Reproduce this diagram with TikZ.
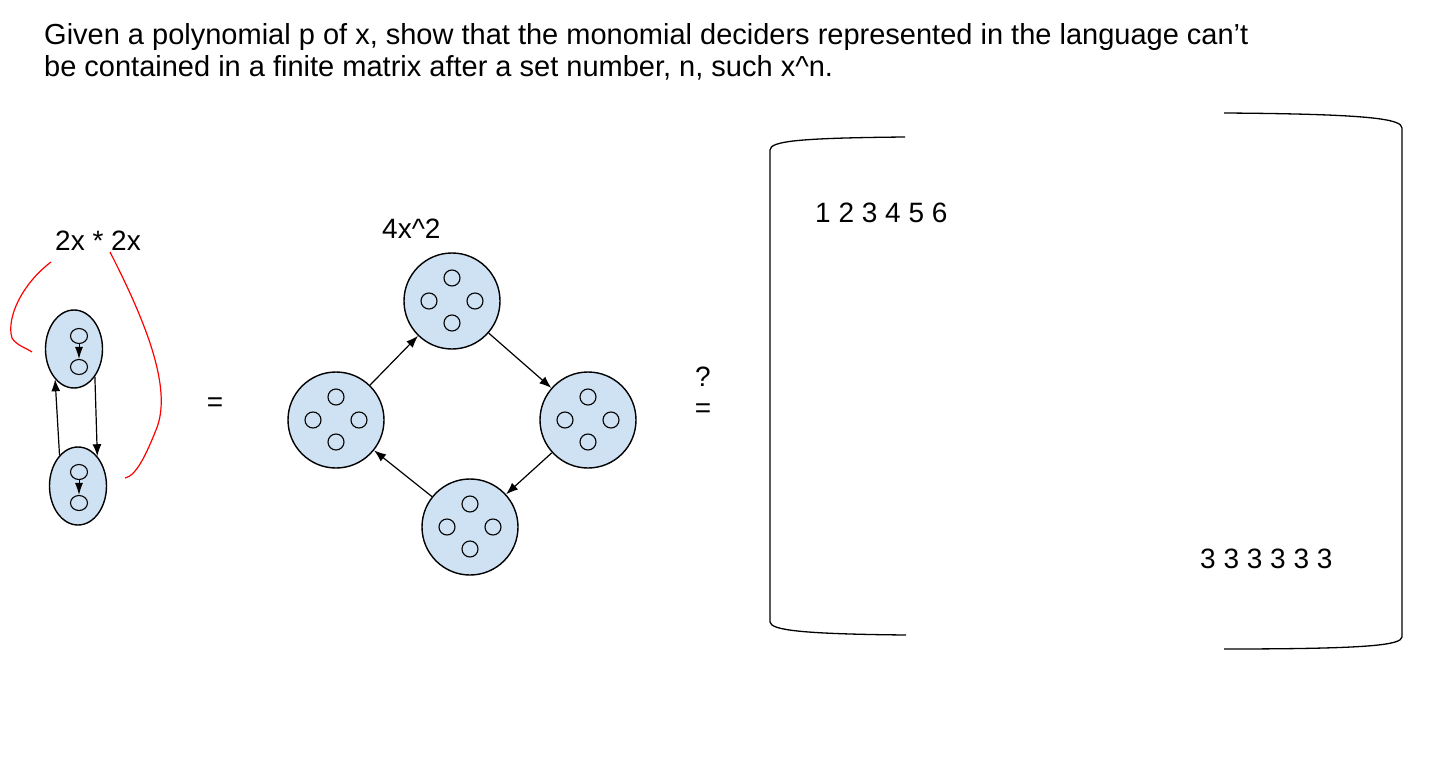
\documentclass[tikz,border=0pt]{standalone}
\usepackage{fontspec}
\setmainfont{Liberation Sans}
\usetikzlibrary{shapes.geometric,arrows.meta}
\definecolor{cellblue}{HTML}{CFE2F3}
\tikzset{
  pairnode/.style = {shape=ellipse, draw, fill=cellblue, line width=1.4pt,
          inner sep=0pt, minimum width=57pt, minimum height=78pt},
  quadnode/.style = {shape=circle, draw, fill=cellblue, line width=1.4pt,
          inner sep=0pt, minimum size=96pt},
  dot/.style      = {shape=ellipse, draw, line width=1.1pt, inner sep=0pt,
          minimum width=17pt, minimum height=15pt},
  label/.style    = {inner sep=0pt, anchor=base west},
  edge/.style     = {draw, line width=1.2pt, -{Latex[length=12pt,width=9pt]}},
  inner/.style    = {draw, line width=1pt, -{Latex[length=12pt,width=8pt]}},
  scribble/.style = {draw=red, line width=1.2pt},
  bracket/.style  = {draw, line width=1.3pt}
}
\begin{document}
\begin{tikzpicture}
  [
    x                 = 1pt,
    y                 = -1pt,
    every node/.style = {font=\fontsize{28}{33}\selectfont}
  ]
  \useasboundingbox [fill=white] (0,0) rectangle (1438,781);
  \node [label, font=\fontsize{29}{33}\selectfont] (title1) at (44,45)
    {Given a polynomial p of x, show that the monomial deciders represented in the language can’t};
  \node [label, font=\fontsize{29}{33}\selectfont] (title2) at (44,77)
    {be contained in a finite matrix after a set number, n, such x\textasciicircum n.};

  \node [label] (lhs) at (55,250) {2x * 2x};
  \node [pairnode] (pa) at (74,349) {};
  \node [pairnode] (pb) at (78,486) {};
  \node [dot] (pa1) at (79,336) {};
  \node [dot] (pa2) at (79,367) {};
  \node [dot] (pb1) at (79,472) {};
  \node [dot] (pb2) at (79,503) {};
  \path [inner] (pa1) -- (pa2);
  \path [inner] (pb1) -- (pb2);
  \path [edge] (pb.121) -- (pa.238);
  \path [edge] (pa.307) -- (pb.57);
  \path [scribble] (51,262) .. controls (22,284) and (6,318) .. (12,338)
    .. controls (16,345) and (26,348) .. (32,352);
  \path [scribble] (110,252) .. controls (150,330) and (172,392) .. (156,430)
    .. controls (146,455) and (136,476) .. (125,478);

  \node (eq1) at (215,405) {=};

  \node [label] (rhs) at (382,238) {4x\textasciicircum 2};
  \foreach \n/\p in {t/{452,301}, l/{336,420}, r/{588,420}, b/{470,527}} {
    \node [quadnode] (\n) at (\p) {};
    \node [dot, minimum width=16pt, minimum height=16pt] (\n1) at ([shift={(0,-23)}]\n.center) {};
    \node [dot, minimum width=16pt, minimum height=16pt] (\n2) at ([shift={(-23,0)}]\n.center) {};
    \node [dot, minimum width=16pt, minimum height=16pt] (\n3) at ([shift={(23,0)}]\n.center) {};
    \node [dot, minimum width=16pt, minimum height=16pt] (\n4) at ([shift={(0,22)}]\n.center) {};
  }
  \path [edge] (l) -- (t);
  \path [edge] (t) -- (r);
  \path [edge] (r) -- (b);
  \path [edge] (b) -- (l);

  \node [anchor=base] (ask) at (703,386) {?};
  \node (eq2) at (703,411) {=};

  \coordinate (lt) at (905,137);
  \coordinate (lb) at (906,635);
  \coordinate (rt) at (1224,113);
  \coordinate (rb) at (1224,649);
  \path [bracket] (lt) .. controls (800,138) and (770,141) .. (770,150)
    -- (770,622) .. controls (771,630) and (800,634) .. (lb);
  \path [bracket] (rt) .. controls (1370,114) and (1402,119) .. (1402,128)
    -- (1402,637) .. controls (1401,645) and (1370,649) .. (rb);
  \node [label] (row1) at (815,222) {1 2 3 4 5 6};
  \node [label] (row6) at (1200,568) {3 3 3 3 3 3};
\end{tikzpicture}
\end{document}
